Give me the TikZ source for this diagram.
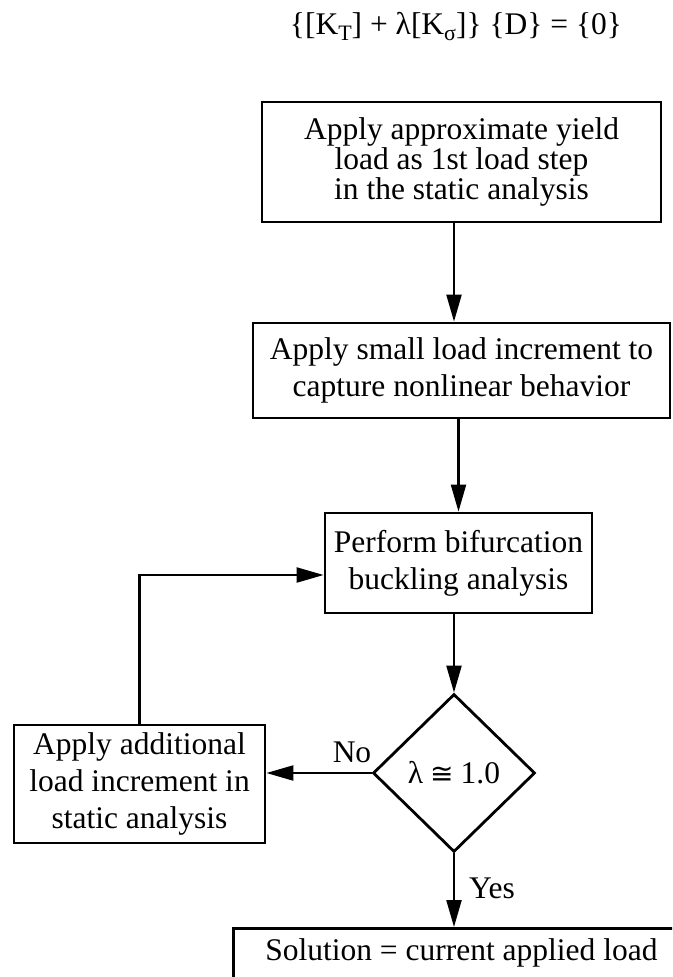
\documentclass[tikz,border=0pt]{standalone}
\usepackage{fontspec}
\setmainfont{Liberation Serif}
\newfontfamily\dvsans{DejaVu Sans}
\usetikzlibrary{shapes.geometric,arrows.meta}
\newcommand{\mysub}[1]{\raisebox{-6pt}{\fontsize{22}{22}\selectfont #1}}
\begin{document}
\begin{tikzpicture}[x=1pt,y=-1pt,
  every node/.style={font=\fontsize{31.5}{37}\selectfont},
  box/.style={draw, line width=2.8pt, align=center, inner sep=0pt},
  conn/.style={line width=2.2pt},
  arr/.style={conn, -{Triangle[length=27pt,width=15pt]}},
  lbl/.style={inner sep=0pt}]
\clip (0,0) rectangle (672,977);
\node (eq) [lbl, font=\fontsize{31.5}{34}\selectfont] at (456,27)
  {\{[K\mysub{T}] + λ[K\mysub{σ}]\}\ \{D\} = \{0\}};
\node (b1) [box, minimum width=399pt, minimum height=120pt,
  font=\fontsize{31.5}{30}\selectfont] at (461.5,162)
  {Apply approximate yield\\load as 1st load step\\in the static analysis};
\node (b2) [box, minimum width=417pt, minimum height=95pt] at (461.5,370.5)
  {Apply small load increment to\\capture nonlinear behavior};
\node (b3) [box, minimum width=267pt, minimum height=100pt] at (458.5,563)
  {Perform bifurcation\\buckling analysis};
\node (d) [draw, diamond, line width=2.8pt, minimum width=162pt, minimum height=158pt, inner sep=0pt] at (454,773)
  {λ\hspace{7pt}{\dvsans\fontsize{28}{30}\selectfont ≅}\hspace{7pt}1.0};
\node (lb) [box, minimum width=251pt, minimum height=118pt] at (139.5,784)
  {Apply additional\\load increment in\\static analysis};
\node (sol) [box, anchor=north west, minimum width=456pt, minimum height=120pt, text depth=80pt, text height=24pt] at (232,927)
  {Solution = current applied load};
\node (no) [lbl] at (352,752) {No};
\node (yes) [lbl] at (492,888) {Yes};
\draw[arr] (b1.south -| d.north) -- (b2.north -| d.north);
\draw[arr] (b2.south -| b3.north) -- (b3.north);
\draw[arr] (b3.south -| d.north) -- (d.north);
\draw[arr] (d.west) -- (d.west -| lb.east);
\draw[arr] (lb.north) |- ([yshift=-12pt]b3.west);
\draw[arr] (d.south) -- (d.south |- sol.north);
\end{tikzpicture}
\end{document}
